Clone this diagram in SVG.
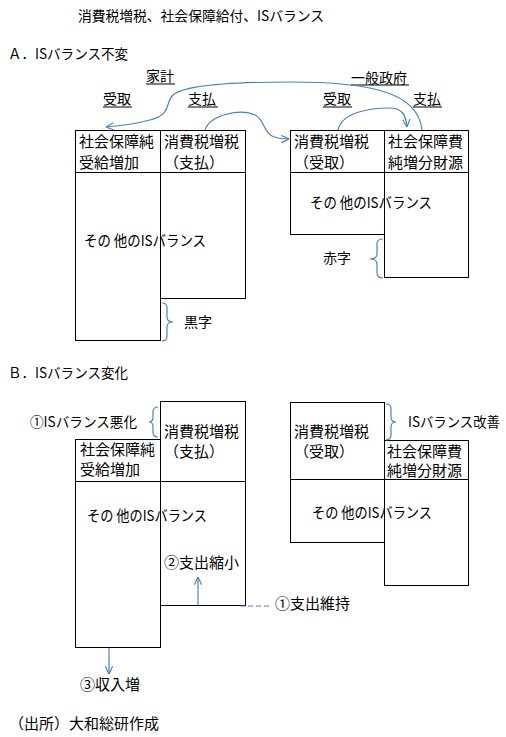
<svg xmlns="http://www.w3.org/2000/svg" width="506" height="737" viewBox="0 0 506 737">
<style>
text{font-family:"Noto Sans CJK JP","Noto Sans",sans-serif;fill:#000}
.t14{font-size:14px}
.t15{font-size:15px}
.box{fill:none;stroke:#000;stroke-width:1}
.conn{fill:none;stroke:#4F81BD;stroke-width:1.2}
.ul{stroke:#000;stroke-width:1}
</style>
<defs>
<marker id="arr" viewBox="0 0 10 10" refX="9.5" refY="5" markerWidth="9" markerHeight="9" markerUnits="userSpaceOnUse" orient="auto">
<path d="M1,1 L9.5,5 L1,9" fill="none" stroke="#4F81BD" stroke-width="1.3"/>
</marker>
</defs>
<rect width="506" height="737" fill="#fff"/>
<g id="titles">
<text class="t14" x="78" y="21" textLength="246" lengthAdjust="spacingAndGlyphs">消費税増税、社会保障給付、ISバランス</text>
<text class="t14" x="8" y="59" textLength="120" lengthAdjust="spacingAndGlyphs">Ａ．ISバランス不変</text>
<text class="t14" x="8" y="378" textLength="120" lengthAdjust="spacingAndGlyphs">Ｂ．ISバランス変化</text>
<text class="t15" x="9" y="728.5">（出所）大和総研作成</text>
</g>
<g id="labels-A">
<text class="t14" x="146" y="81">家計</text>
<text class="t14" x="103" y="104">受取</text>
<text class="t14" x="188" y="104">支払</text>
<text class="t14" x="351" y="82.5">一般政府</text>
<text class="t14" x="323" y="104">受取</text>
<text class="t14" x="413" y="104">支払</text>
<line class="ul" x1="146" y1="84" x2="175" y2="84"/>
<line class="ul" x1="103" y1="107" x2="132" y2="107"/>
<line class="ul" x1="188" y1="107" x2="218" y2="107"/>
<line class="ul" x1="351" y1="85" x2="409" y2="85"/>
<line class="ul" x1="323" y1="107" x2="352" y2="107"/>
<line class="ul" x1="413" y1="107" x2="442" y2="107"/>
</g>
<g id="A-household">
<rect class="box" x="75.5" y="130.5" width="85" height="210"/>
<rect class="box" x="160.5" y="130.5" width="85" height="168"/>
<line class="box" x1="75.5" y1="172.5" x2="245.5" y2="172.5"/>
<text class="t15" x="79" y="147">社会保障純</text>
<text class="t15" x="79" y="168">受給増加</text>
<text class="t15" x="164" y="147">消費税増税</text>
<text class="t15" x="164" y="168">（支払）</text>
<text class="t15" x="84" y="245.5" textLength="122" lengthAdjust="spacingAndGlyphs">その 他のISバランス</text>
</g>
<g id="A-government">
<rect class="box" x="290.5" y="130.5" width="94" height="104"/>
<rect class="box" x="384.5" y="130.5" width="84" height="147"/>
<line class="box" x1="290.5" y1="172.5" x2="468.5" y2="172.5"/>
<text class="t15" x="294" y="147">消費税増税</text>
<text class="t15" x="294" y="168">（受取）</text>
<text class="t15" x="388" y="147">社会保障費</text>
<text class="t15" x="388" y="168">純増分財源</text>
<text class="t15" x="310" y="207.5" textLength="122" lengthAdjust="spacingAndGlyphs">その 他のISバランス</text>
</g>
<g id="A-notes">
<path class="conn" d="M162,303 Q167,303 167,308 L167,317 Q167,322 173,322 Q167,322 167,327 L167,336 Q167,341 162,341"/>
<text class="t14" x="184" y="327">黒字</text>
<path class="conn" d="M383,239 Q377,239 377,244 L377,254 Q377,259 370,259 Q377,259 377,264 L377,273 Q377,278 383,278"/>
<text class="t14" x="323" y="263">赤字</text>
</g>
<g id="B-household">
<rect class="box" x="75.5" y="439.5" width="85" height="208"/>
<rect class="box" x="160.5" y="401.5" width="85" height="204"/>
<line class="box" x1="75.5" y1="481.5" x2="245.5" y2="481.5"/>
<text class="t15" x="80" y="454.5">社会保障純</text>
<text class="t15" x="80" y="474.5">受給増加</text>
<text class="t15" x="164" y="436.5">消費税増税</text>
<text class="t15" x="164" y="456.5">（支払）</text>
<text class="t15" x="87" y="520.5" textLength="120" lengthAdjust="spacingAndGlyphs">その 他のISバランス</text>
<text class="t15" x="164" y="567.5">②支出縮小</text>
</g>
<g id="B-government">
<rect class="box" x="290.5" y="402.5" width="94" height="140"/>
<rect class="box" x="384.5" y="440.5" width="84" height="145"/>
<line class="box" x1="290.5" y1="479.5" x2="468.5" y2="479.5"/>
<text class="t15" x="294" y="436.5">消費税増税</text>
<text class="t15" x="294" y="456.5">（受取）</text>
<text class="t15" x="387" y="456.5">社会保障費</text>
<text class="t15" x="387" y="475.5">純増分財源</text>
<text class="t15" x="312" y="517.5" textLength="120" lengthAdjust="spacingAndGlyphs">その 他のISバランス</text>
</g>
<g id="B-notes">
<path class="conn" d="M158,407 Q153,407 153,412 L153,417 Q153,422 149,422 Q153,422 153,427 L153,432 Q153,437 158,437"/>
<text class="t14" x="30" y="427" textLength="107" lengthAdjust="spacingAndGlyphs">①ISバランス悪化</text>
<path class="conn" d="M386,404 Q391,404 391,409 L391,417 Q391,422 396,422 Q391,422 391,427 L391,435 Q391,440 386,440"/>
<text class="t14" x="408" y="427" textLength="92" lengthAdjust="spacingAndGlyphs">ISバランス改善</text>
<text class="t15" x="275" y="608.5">①支出維持</text>
<text class="t15" x="80" y="689.5">③収入増</text>
</g>
<g id="connectors">
<path class="conn" d="M422,130 C418,92 370,82 290,82 C220,82 180,87 172,96 C165,104 172,114 150,120 C135,124 118,126 106,127" marker-end="url(#arr)"/>
<path class="conn" d="M205,130 C210,115 240,108 255,115 C265,120 263,132 272,136 C278,139 283,139 289,139" marker-end="url(#arr)"/>
<path class="conn" d="M338,130 C342,112 370,108 390,108 C402,108 406,115 407,127" marker-end="url(#arr)"/>
<line class="conn" x1="198" y1="605" x2="198" y2="577" marker-end="url(#arr)"/>
<line class="conn" x1="240" y1="606" x2="271" y2="606" stroke-dasharray="5 3"/>
<line class="conn" x1="109" y1="648" x2="109" y2="674" marker-end="url(#arr)"/>
</g>
</svg>
